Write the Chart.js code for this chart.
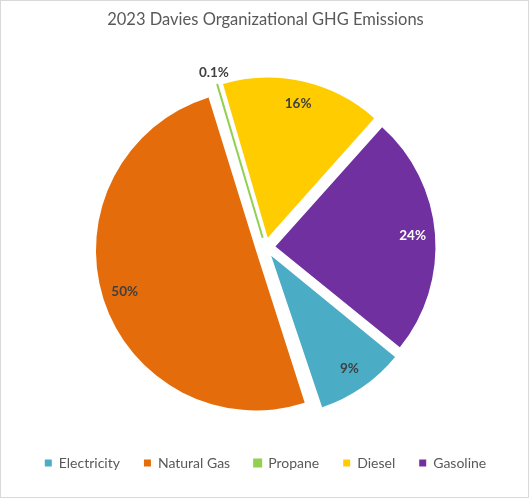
<!DOCTYPE html>
<html>
<head>
<meta charset="utf-8">
<script src="https://cdn.jsdelivr.net/npm/chart.js@4"></script>
<style>
  body { margin: 0; background: #fff; }
  #wrap { width: 527px; height: 496px; border: 1px solid #d9d9d9; }
</style>
</head>
<body>
<div id="wrap"><canvas id="chart" width="527" height="496"></canvas></div>
<script>
const categories = ["Electricity", "Natural Gas", "Propane", "Diesel", "Gasoline"]
const shares = [9, 50, 0.1, 16, 24]
const shareLabels = ["9%", "50%", "0.1%", "16%", "24%"]
const colors = ["#4BACC6", "#E46C0A", "#92D050", "#FFCC00", "#7030A0"]
const labelColors = ["#404040", "#404040", "#404040", "#404040", "#ffffff"]

const pieRadius = 160
const explode = 40 // chart.js moves each arc by offset / 4

// chart.js also grows an offset arc's radius by (offset/4)*(1-sin(angle)),
// take that back so every slice keeps the same radius
const sameRadius = {
    id: "sameRadius",
    afterDatasetUpdate(chart) {
        chart.getDatasetMeta(0).data.forEach(arc => {
            const circ = arc.endAngle - arc.startAngle
            const fix = 1 - Math.sin(Math.min(Math.PI, circ))
            arc.outerRadius = pieRadius - (arc.options.offset / 4) * fix
        })
    }
}

// draws the percentage labels, propane one outside the slice
const sliceLabels = {
    id: "sliceLabels",
    afterDatasetsDraw(chart) {
        const ctx = chart.ctx
        const meta = chart.getDatasetMeta(0)
        ctx.save()
        ctx.font = "bold 13.5px Lato"
        ctx.textAlign = "center"
        ctx.textBaseline = "middle"
        meta.data.forEach((arc, i) => {
            const mid = (arc.startAngle + arc.endAngle) / 2
            const off = arc.options.offset / 4
            const cx = arc.x + Math.cos(mid) * off
            const cy = arc.y + Math.sin(mid) * off
            const r = shares[i] < 1 ? pieRadius + 12 : pieRadius * 0.86
            ctx.fillStyle = labelColors[i]
            ctx.fillText(shareLabels[i], cx + Math.cos(mid) * r, cy + Math.sin(mid) * r)
        })
        ctx.restore()
    }
}

new Chart(document.getElementById("chart"), {
    type: "pie",
    data: {
        labels: categories,
        datasets: [{
            data: shares,
            backgroundColor: colors,
            borderColor: colors,
            borderWidth: [0, 0, 2, 0, 0],
            offset: explode
        }]
    },
    options: {
        responsive: false,
        animation: false,
        rotation: 129,
        radius: pieRadius,
        layout: {
            padding: {left: 2, right: 0, top: 0, bottom: 17}
        },
        plugins: {
            title: {
                display: true,
                text: "2023 Davies Organizational GHG Emissions",
                color: "#595959",
                font: {family: "Lato", size: 16.5, weight: "normal"},
                padding: {top: 9, bottom: 33}
            },
            legend: {
                position: "bottom",
                labels: {
                    color: "#595959",
                    font: {family: "Lato", size: 14},
                    boxWidth: 7,
                    boxHeight: 7,
                    padding: 24
                }
            },
            tooltip: {enabled: false}
        }
    },
    plugins: [sameRadius, sliceLabels]
})
</script>
</body>
</html>
